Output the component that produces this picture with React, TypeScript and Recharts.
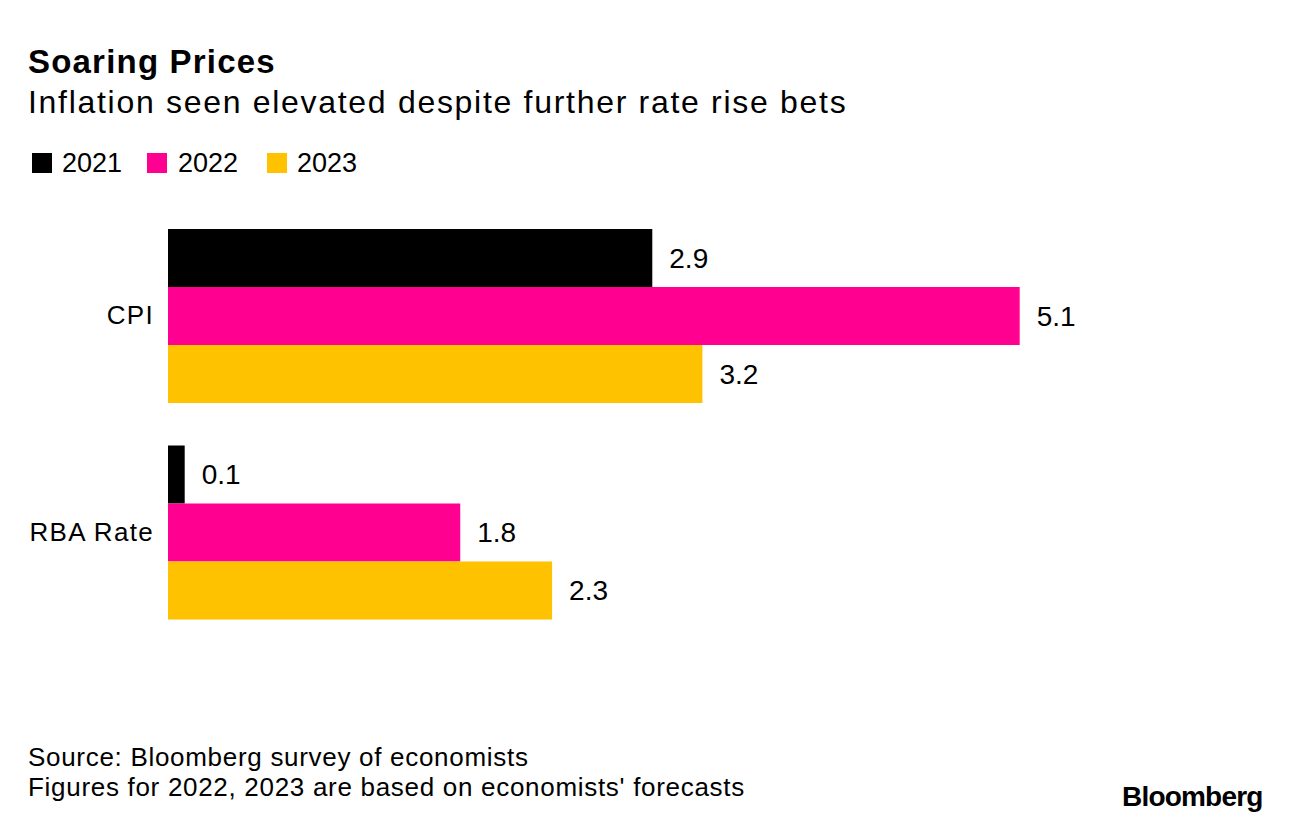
import React from 'react';
import { BarChart, Bar, XAxis, YAxis, LabelList } from 'recharts';

const categories = ['CPI', 'RBA Rate'];
const years = ['2021', '2022', '2023'];
const values2021 = [2.9, 0.1];
const values2022 = [5.1, 1.75];
const values2023 = [3.2, 2.3];
const colors = ['#000000', '#ff0090', '#ffc200'];

const data = categories.map((c, i) => ({
  name: c,
  y2021: values2021[i],
  y2022: values2022[i],
  y2023: values2023[i],
}));

const keys = ['y2021', 'y2022', 'y2023'];
const legendSquareX = [32, 147, 267];
const legendTextX = [62, 178, 297];
const FONT = '"Liberation Sans", Arial, sans-serif';

export default function App() {
  return (
    <div style={{ position: 'absolute', left: 0, top: 0, width: 1289, height: 826, background: '#fff', fontFamily: FONT, color: '#000' }}>
      <div style={{ position: 'absolute', left: 28, top: 45, fontSize: 33, lineHeight: 1, fontWeight: 700, letterSpacing: 1.2, whiteSpace: 'nowrap' }}>Soaring Prices</div>
      <div style={{ position: 'absolute', left: 28, top: 86, fontSize: 32, lineHeight: 1, letterSpacing: 1.7, whiteSpace: 'nowrap' }}>Inflation seen elevated despite further rate rise bets</div>
      {years.map((y, i) => (
        <React.Fragment key={y}>
          <div style={{ position: 'absolute', left: legendSquareX[i], top: 153, width: 20, height: 20, background: colors[i] }} />
          <div style={{ position: 'absolute', left: legendTextX[i], top: 150, fontSize: 27, lineHeight: 1 }}>{y}</div>
        </React.Fragment>
      ))}
      <div style={{ position: 'absolute', left: 0, top: 0 }}>
        <BarChart
          width={1289}
          height={826}
          data={data}
          layout="vertical"
          margin={{ top: 207, bottom: 186, left: 0, right: 119 }}
          barCategoryGap={22}
          barGap={0}
        >
          <XAxis type="number" domain={[0, 6]} hide />
          <YAxis
            type="category"
            dataKey="name"
            width={168}
            axisLine={false}
            tickLine={false}
            tickSize={0}
            tickMargin={14}
            tick={{ fill: '#000', fontSize: 26, fontFamily: FONT, letterSpacing: 1.3 }}
          />
          {keys.map((k, i) => (
            <Bar key={k} dataKey={k} fill={colors[i]} isAnimationActive={false}>
              <LabelList
                dataKey={k}
                position="right"
                offset={17}
                formatter={(v: number) => v.toFixed(1)}
                style={{ fill: '#000', fontSize: 28, fontFamily: FONT }}
              />
            </Bar>
          ))}
        </BarChart>
      </div>
      <div style={{ position: 'absolute', left: 28, top: 742, fontSize: 26, lineHeight: '30px', letterSpacing: 0.7, whiteSpace: 'nowrap' }}>
        <div>Source: Bloomberg survey of economists</div>
        <div>Figures for 2022, 2023 are based on economists' forecasts</div>
      </div>
      <div style={{ position: 'absolute', left: 1122, top: 783, fontSize: 28, lineHeight: 1, fontWeight: 700, letterSpacing: -0.8 }}>Bloomberg</div>
    </div>
  );
}
